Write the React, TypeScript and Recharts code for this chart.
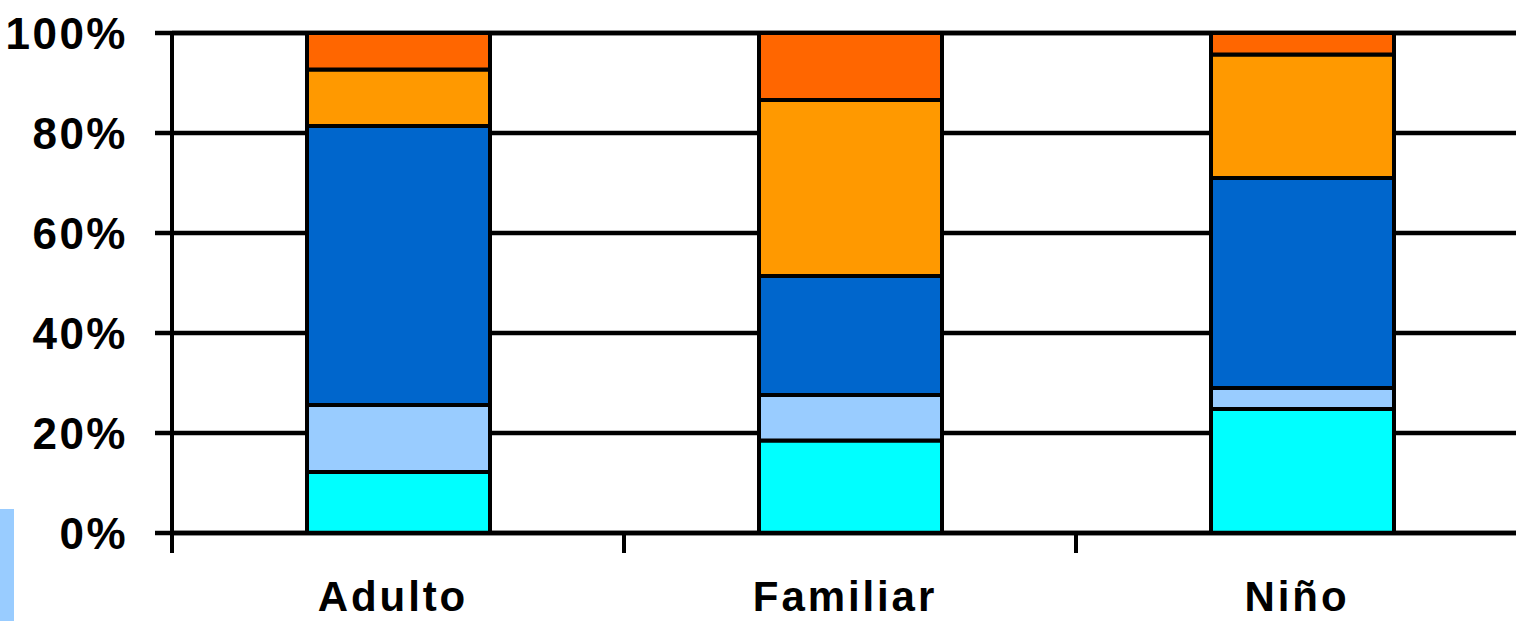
import { Bar, BarChart, CartesianGrid, XAxis, YAxis } from 'recharts'

const categorias = ['Adulto', 'Familiar', 'Niño']

// shares per category (%), bottom to top of each stack
const serie1 = [12.2, 18.5, 24.8]
const serie2 = [13.4, 9.1, 4.2]
const serie3 = [55.8, 23.8, 42.0]
const serie4 = [11.3, 35.2, 24.7]
const serie5 = [7.3, 13.4, 4.3]

const yTicks = [0, 20, 40, 60, 80, 100]

const series = [
  { key: 's1', values: serie1, color: '#00FFFF' },
  { key: 's2', values: serie2, color: '#99CCFF' },
  { key: 's3', values: serie3, color: '#0066CC' },
  { key: 's4', values: serie4, color: '#FF9900' },
  { key: 's5', values: serie5, color: '#FF6600' },
]

const data = categorias.map((name, i) => {
  const row: Record<string, string | number> = { name }
  series.forEach((s) => {
    row[s.key] = s.values[i]
  })
  return row
})

const CHART_W = 1528
const CHART_H = 621
const AXIS_W = 172
const BAND = (CHART_W - AXIS_W) / categorias.length
const FONT = '"Liberation Sans", Arial, sans-serif'

// category label plus a tick mark on the left edge of each band
function CategoryTick(props: any) {
  const { x, y, payload } = props
  const edge = x - BAND / 2
  return (
    <g>
      <line x1={edge} x2={edge} y1={y} y2={y + 20} stroke="#000" strokeWidth={4} />
      <text
        x={x - 5}
        y={y + 78}
        textAnchor="middle"
        fill="#000"
        fontSize={42}
        fontWeight={700}
        fontFamily={FONT}
        letterSpacing={2.9}
      >
        {payload.value}
      </text>
    </g>
  )
}

export default function App() {
  return (
    <div
      style={{
        position: 'absolute',
        left: 0,
        top: 0,
        width: 1516,
        height: CHART_H,
        overflow: 'hidden',
        background: '#fff',
      }}
    >
      <BarChart
        width={CHART_W}
        height={CHART_H}
        data={data}
        margin={{ top: 33, right: 0, left: 0, bottom: 0 }}
      >
        <CartesianGrid vertical={false} stroke="#000" strokeWidth={4.5} />
        <XAxis
          dataKey="name"
          height={88}
          tickLine={false}
          tickSize={0}
          tickMargin={0}
          axisLine={{ stroke: '#000', strokeWidth: 4.5 }}
          tick={<CategoryTick />}
          interval={0}
        />
        <YAxis
          width={AXIS_W}
          domain={[0, 100]}
          ticks={yTicks}
          tickFormatter={(v: number) => `${v}%`}
          tickSize={17}
          tickMargin={27}
          axisLine={{ stroke: '#000', strokeWidth: 4 }}
          tickLine={{ stroke: '#000', strokeWidth: 4.5 }}
          tick={{
            fill: '#000',
            fontSize: 44,
            fontWeight: 700,
            fontFamily: FONT,
            letterSpacing: 2.5,
          }}
        />
        {series.map((s) => (
          <Bar
            key={s.key}
            dataKey={s.key}
            stackId="a"
            fill={s.color}
            stroke="#000"
            strokeWidth={4}
            barSize={183}
            isAnimationActive={false}
          />
        ))}
      </BarChart>
      <div
        style={{
          position: 'absolute',
          left: 0,
          top: 509,
          width: 14,
          height: 112,
          background: '#99CCFF',
        }}
      />
    </div>
  )
}
